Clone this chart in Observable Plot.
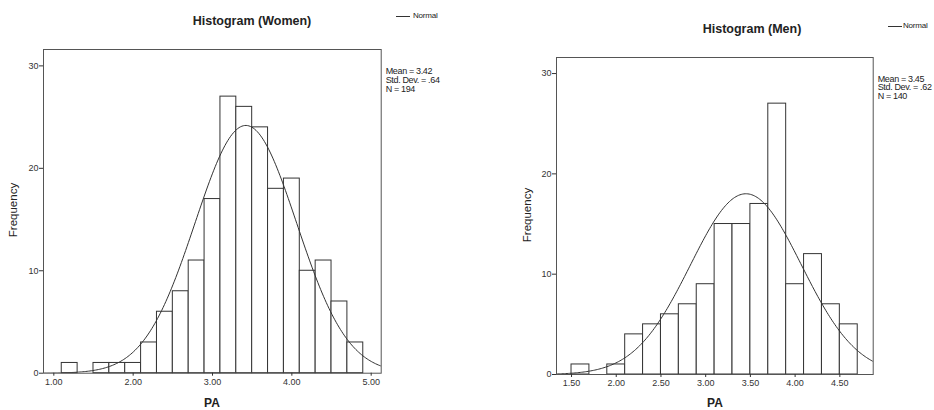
<!DOCTYPE html>
<html>
<head>
<meta charset="utf-8">
<script src="https://cdn.jsdelivr.net/npm/d3@7"></script>
<script src="https://cdn.jsdelivr.net/npm/@observablehq/plot@0.6"></script>
<style>
  html, body { margin: 0; padding: 0; background: #fff; }
  #wrap { position: relative; width: 934px; height: 410px; overflow: hidden; font-family: "Liberation Sans", Arial, sans-serif; color: #222; }
  #wrap svg { position: absolute; top: 0; }
  .t { position: absolute; white-space: nowrap; line-height: 1; }
  .c { transform: translate(-50%, -50%); }
  .l { transform: translate(0, -50%); }
  .title { font-weight: bold; font-size: 12.5px; }
  .leg { font-size: 8px; letter-spacing: -0.2px; }
  .stat { font-size: 9px; letter-spacing: -0.35px; }
  .ylab { font-size: 11.5px; transform: translate(-50%, -50%) rotate(-90deg); }
  .xlab { font-weight: bold; font-size: 12px; }
  .legline { position: absolute; height: 0; border-top: 1px solid #333; }
</style>
</head>
<body>
<div id="wrap"></div>
<script>
// ---- Data ----
const womenBinStarts = [1.1, 1.3, 1.5, 1.7, 1.9, 2.1, 2.3, 2.5, 2.7, 2.9, 3.1, 3.3, 3.5, 3.7, 3.9, 4.1, 4.3, 4.5, 4.7];
const womenCounts    = [1,   0,   1,   1,   1,   3,   6,   8,   11,  17,  27,  26,  24,  18,  19,  10,  11,  7,   3];
const menBinStarts   = [1.5, 1.7, 1.9, 2.1, 2.3, 2.5, 2.7, 2.9, 3.1, 3.3, 3.5, 3.7, 3.9, 4.1, 4.3, 4.5];
const menCounts      = [1,   0,   1,   4,   5,   6,   7,   9,   15,  15,  17,  27,  9,   12,  7,   5];
const binWidth = 0.2;
const womenStats = {mean: 3.42, sd: 0.64, n: 194};
const menStats   = {mean: 3.45, sd: 0.62, n: 140};
const womenXTicks = [1, 2, 3, 4, 5];
const menXTicks   = [1.5, 2, 2.5, 3, 3.5, 4, 4.5];
const yTicks = [0, 10, 20, 30];
const titles = ["Histogram (Women)", "Histogram (Men)"];
const statLines = [
  ["Mean = 3.42", "Std. Dev. = .64", "N = 194"],
  ["Mean = 3.45", "Std. Dev. = .62", "N = 140"]
];

function normalCurve(stats, domain) {
  const pts = [];
  const steps = 240;
  for (let i = 0; i <= steps; i++) {
    const x = domain[0] + (domain[1] - domain[0]) * i / steps;
    const z = (x - stats.mean) / stats.sd;
    const y = stats.n * binWidth * Math.exp(-0.5 * z * z) / (stats.sd * Math.sqrt(2 * Math.PI));
    pts.push({x, y});
  }
  return pts;
}

function hist(binStarts, counts, stats, xDomain, xTicks, m) {
  const bins = binStarts.map((s, i) => ({x1: s, x2: s + binWidth, y: counts[i]}));
  return Plot.plot({
    width: 467,
    height: 410,
    marginLeft: m.left, marginRight: m.right, marginTop: m.top, marginBottom: m.bottom,
    style: {fontFamily: "Liberation Sans, Arial, sans-serif", fontSize: "9px", color: "#333", background: "transparent"},
    x: {domain: xDomain},
    y: {domain: [0, 31.6]},
    marks: [
      Plot.rectY(bins, {x1: "x1", x2: "x2", y: "y", fill: "white", stroke: "#333", strokeWidth: 1}),
      Plot.line(normalCurve(stats, xDomain), {x: "x", y: "y", stroke: "#333", strokeWidth: 1, clip: true}),
      Plot.frame({stroke: "#555", strokeWidth: 1}),
      Plot.axisY({ticks: yTicks, tickSize: 4, tickPadding: 1, tickFormat: d3.format("d"), label: null, stroke: "#333", fill: "#333"}),
      Plot.axisX({ticks: xTicks, tickSize: 3, tickPadding: 2, tickFormat: d => d.toFixed(2), label: null, stroke: "#333", fill: "#333"})
    ]
  });
}

const wrap = document.getElementById("wrap");

const left = hist(womenBinStarts, womenCounts, womenStats, [0.87, 5.126], womenXTicks,
  {left: 43, right: 86.3, top: 49, bottom: 37.3});
left.style.left = "0px";
wrap.appendChild(left);

const right = hist(menBinStarts, menCounts, menStats, [1.332, 4.873], menXTicks,
  {left: 89, right: 61.3, top: 57, bottom: 36});
right.style.left = "467px";
wrap.appendChild(right);

function addText(txt, cls, x, y) {
  const d = document.createElement("div");
  d.className = "t " + cls;
  d.textContent = txt;
  d.style.left = x + "px";
  d.style.top = y + "px";
  wrap.appendChild(d);
}
function addLine(x1, x2, y) {
  const d = document.createElement("div");
  d.className = "legline";
  d.style.left = x1 + "px";
  d.style.width = (x2 - x1) + "px";
  d.style.top = y + "px";
  wrap.appendChild(d);
}

// Women panel texts
addText(titles[0], "title c", 252, 21);
addLine(396, 410, 16);
addText("Normal", "leg l", 413, 16);
statLines[0].forEach((s, i) => addText(s, "stat l", 385.7, 71 + i * 8.8));
addText("Frequency", "ylab", 14, 210);
addText("PA", "xlab c", 212, 403);

// Men panel texts
addText(titles[1], "title c", 752, 29);
addLine(888, 902, 26);
addText("Normal", "leg l", 903, 26);
statLines[1].forEach((s, i) => addText(s, "stat l", 877.7, 78.7 + i * 8.7));
addText("Frequency", "ylab", 528, 215);
addText("PA", "xlab c", 715, 403);
</script>
</body>
</html>
